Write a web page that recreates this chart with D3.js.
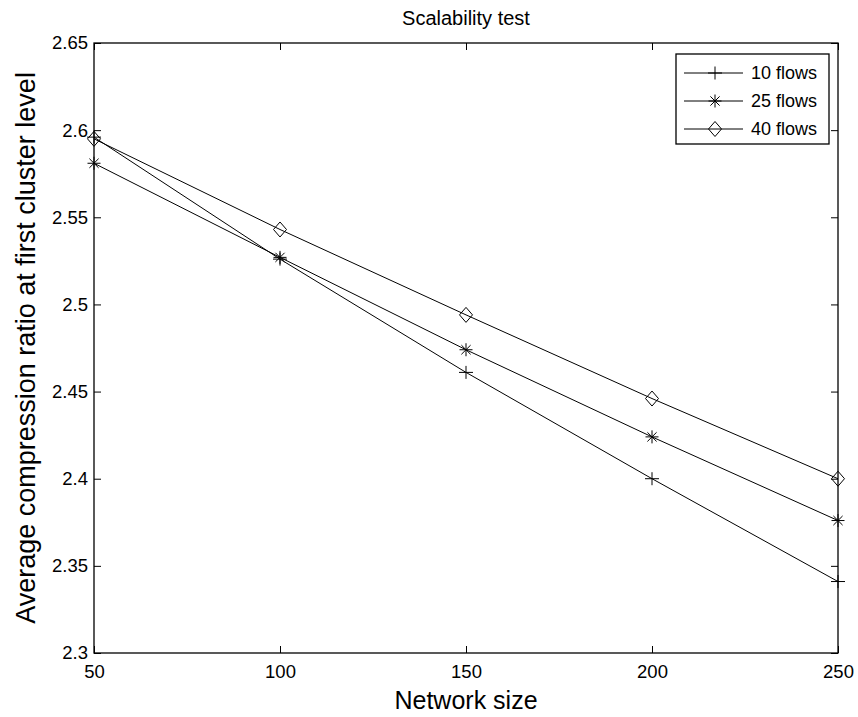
<!DOCTYPE html>
<html>
<head>
<meta charset="utf-8">
<script src="https://cdn.jsdelivr.net/npm/d3@7"></script>
<style>
  html, body { margin: 0; padding: 0; background: #fff; }
  svg { display: block; font-family: "Liberation Sans", Arial, sans-serif; }
</style>
</head>
<body>
<svg id="chart" width="858" height="717"></svg>
<script>
// Network sizes on the x axis
const networkSizes = [50, 100, 150, 200, 250];
// Average compression ratio per flow count
const flows10 = [2.596, 2.526, 2.461, 2.400, 2.341];
const flows25 = [2.581, 2.527, 2.474, 2.424, 2.376];
const flows40 = [2.595, 2.543, 2.494, 2.446, 2.400];
const seriesNames = ["10 flows", "25 flows", "40 flows"];
const seriesMarkers = ["plus", "asterisk", "diamond"];
// Axis tick values
const xTicks = [50, 100, 150, 200, 250];
const yTicks = [2.3, 2.35, 2.4, 2.45, 2.5, 2.55, 2.6, 2.65];

const series = [flows10, flows25, flows40].map((vals, i) => ({
  name: seriesNames[i],
  marker: seriesMarkers[i],
  points: vals.map((v, j) => ({ x: networkSizes[j], y: v }))
}));

const svg = d3.select("#chart");
const plot = { left: 94, right: 838, top: 43, bottom: 653 };

const x = d3.scaleLinear().domain([50, 250]).range([plot.left, plot.right]);
const y = d3.scaleLinear().domain([2.3, 2.65]).range([plot.bottom, plot.top]);

const tickLen = 7;
const tickFont = 18.5;
const fmt = d => String(+d.toFixed(2));

// Axes with inward ticks on all four sides
svg.append("g").attr("transform", `translate(0,${plot.bottom})`)
  .call(d3.axisBottom(x).tickValues(xTicks).tickSize(-tickLen).tickPadding(12).tickFormat(fmt))
  .call(g => g.select(".domain").remove());
svg.append("g").attr("transform", `translate(0,${plot.top})`)
  .call(d3.axisTop(x).tickValues(xTicks).tickSize(-tickLen).tickFormat(""))
  .call(g => g.select(".domain").remove());
svg.append("g").attr("transform", `translate(${plot.left},0)`)
  .call(d3.axisLeft(y).tickValues(yTicks).tickSize(-tickLen).tickPadding(6).tickFormat(fmt))
  .call(g => g.select(".domain").remove());
svg.append("g").attr("transform", `translate(${plot.right},0)`)
  .call(d3.axisRight(y).tickValues(yTicks).tickSize(-tickLen).tickFormat(""))
  .call(g => g.select(".domain").remove());

svg.selectAll(".tick line").attr("stroke", "#000").attr("stroke-width", 1);
svg.selectAll(".tick text").attr("fill", "#000").attr("font-size", tickFont)
  .attr("font-family", "'Liberation Sans', Arial, sans-serif");

// Plot frame
svg.append("rect")
  .attr("x", plot.left).attr("y", plot.top)
  .attr("width", plot.right - plot.left).attr("height", plot.bottom - plot.top)
  .attr("fill", "none").attr("stroke", "#000").attr("stroke-width", 1.3);

// Marker shapes
function drawMarker(g, type, cx, cy) {
  if (type === "plus") {
    const w = 7, h = 6.5;
    g.append("path").attr("d", `M${cx - w},${cy}H${cx + w}M${cx},${cy - h}V${cy + h}`)
      .attr("stroke", "#000").attr("fill", "none").attr("stroke-width", 1);
  } else if (type === "asterisk") {
    const r = 6.5, d = r * Math.SQRT1_2;
    g.append("path")
      .attr("d", `M${cx - r},${cy}H${cx + r}M${cx},${cy - r}V${cy + r}M${cx - d},${cy - d}L${cx + d},${cy + d}M${cx - d},${cy + d}L${cx + d},${cy - d}`)
      .attr("stroke", "#000").attr("fill", "none").attr("stroke-width", 1);
  } else if (type === "diamond") {
    const w = 6.5, h = 7.5;
    g.append("path")
      .attr("d", `M${cx},${cy - h}L${cx + w},${cy}L${cx},${cy + h}L${cx - w},${cy}Z`)
      .attr("stroke", "#000").attr("fill", "none").attr("stroke-width", 1);
  }
}

const line = d3.line().x(d => x(d.x)).y(d => y(d.y));

series.forEach(s => {
  const g = svg.append("g");
  g.append("path").datum(s.points).attr("d", line)
    .attr("fill", "none").attr("stroke", "#000").attr("stroke-width", 1);
  s.points.forEach(p => drawMarker(g, s.marker, x(p.x), y(p.y)));
});

// Legend
const legend = { left: 676, top: 54, width: 153, height: 90 };
svg.append("rect")
  .attr("x", legend.left).attr("y", legend.top)
  .attr("width", legend.width).attr("height", legend.height)
  .attr("fill", "#fff").attr("stroke", "#000").attr("stroke-width", 1.3);
const rowY = [73, 101, 129];
series.forEach((s, i) => {
  const g = svg.append("g");
  g.append("line").attr("x1", legend.left + 8).attr("x2", legend.left + 67)
    .attr("y1", rowY[i]).attr("y2", rowY[i]).attr("stroke", "#000").attr("stroke-width", 1);
  drawMarker(g, s.marker, legend.left + 39, rowY[i]);
  g.append("text").attr("x", legend.left + 75).attr("y", rowY[i])
    .attr("dy", "0.35em").attr("font-size", 18).text(s.name);
});

// Title and axis labels
svg.append("text").attr("x", (plot.left + plot.right) / 2).attr("y", 25)
  .attr("text-anchor", "middle").attr("font-size", 20).text("Scalability test");
svg.append("text").attr("x", (plot.left + plot.right) / 2).attr("y", 709)
  .attr("text-anchor", "middle").attr("font-size", 25).text("Network size");
svg.append("text")
  .attr("transform", `translate(35,${(plot.top + plot.bottom) / 2}) rotate(-90)`)
  .attr("text-anchor", "middle").attr("font-size", 27)
  .text("Average compression ratio at first cluster level");
</script>
</body>
</html>
